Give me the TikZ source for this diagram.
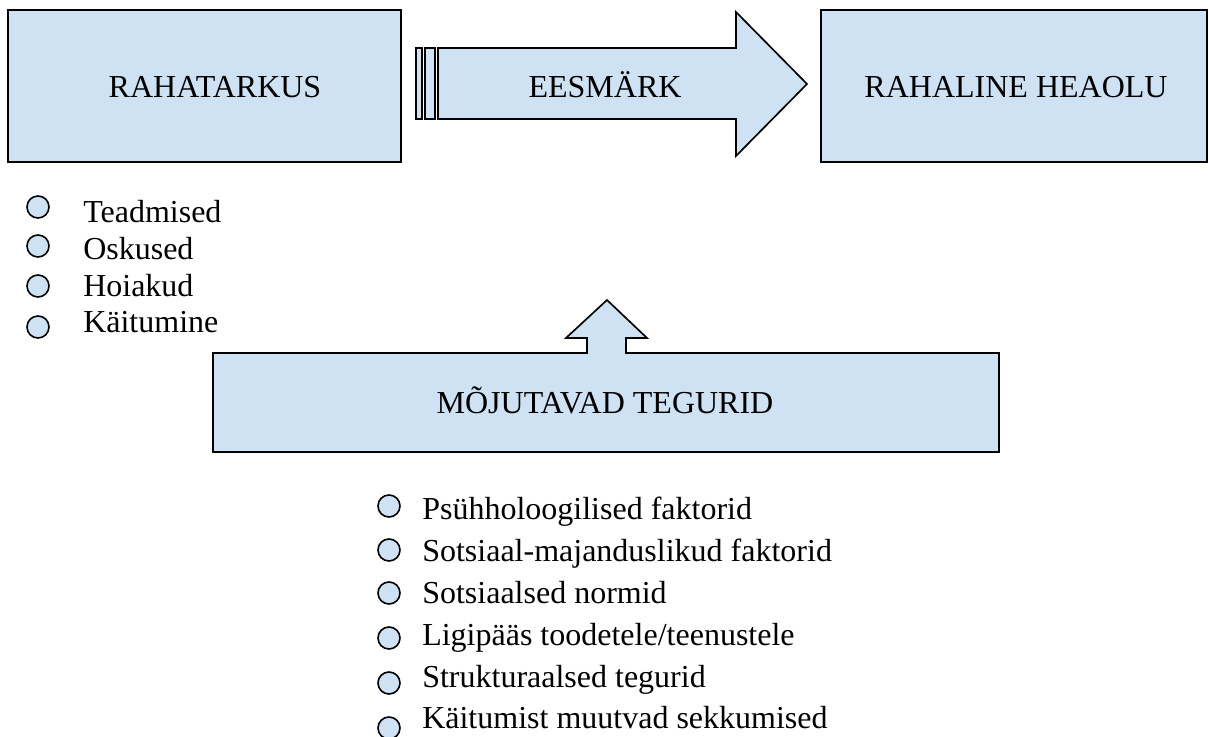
\documentclass[tikz,border=0pt]{standalone}
\usepackage{fontspec}
\setmainfont{Liberation Serif}
\definecolor{boxfill}{RGB}{207,226,243}
\begin{document}
\begin{tikzpicture}[x=0.75pt,y=-0.75pt,
  shapeline/.style={draw=black,fill=boxfill,line width=1.25pt,line join=miter},
  lbl/.style={inner sep=0pt,anchor=base,font=\fontsize{24}{28}\selectfont},
  item/.style={inner sep=0pt,anchor=base west,font=\fontsize{24}{28}\selectfont},
  bul/.style={draw=black,fill=boxfill,line width=1.2pt,circle,inner sep=0pt,minimum size=16.5pt}]
\useasboundingbox (0,0) rectangle (1209,737);
% top boxes
\draw[shapeline] (8,10) rectangle (401,162);
\draw[shapeline] (821,10) rectangle (1207,162);
% striped arrow
\draw[shapeline] (416,48) rectangle (422,119);
\draw[shapeline] (425,48) rectangle (435,119);
\draw[shapeline] (438,48) -- (736,48) -- (736,12) -- (807,84) -- (736,156) -- (736,119) -- (438,119) -- cycle;
\node[lbl] (rt) at (215,98) {RAHATARKUS};
\node[lbl] (ee) at (605,98) {EESMÄRK};
\node[lbl] (rh) at (1016,98) {RAHALINE HEAOLU};
% bottom box with up arrow
\draw[shapeline] (213,353) -- (587,353) -- (587,338) -- (566,338) -- (607,300) -- (647,338) -- (626,338) -- (626,353) -- (999,353) -- (999,452) -- (213,452) -- cycle;
\node[lbl] (mt) at (605,413) {MÕJUTAVAD TEGURID};
% left list
\node[bul] (l1) at (38,207) {};
\node[bul] (l2) at (38,246) {};
\node[bul] (l3) at (38,286) {};
\node[bul] (l4) at (38,327) {};
\node[item] (t1) at (83,223) {Teadmised};
\node[item] (t2) at (83,260) {Oskused};
\node[item] (t3) at (83,297) {Hoiakud};
\node[item] (t4) at (83,333) {Käitumine};
% bottom list
\node[bul] (m1) at (389,506) {};
\node[bul] (m2) at (389,550) {};
\node[bul] (m3) at (389,593) {};
\node[bul] (m4) at (389,638) {};
\node[bul] (m5) at (389,683) {};
\node[bul] (m6) at (389,728) {};
\node[item] (s1) at (422,519) {Psühholoogilised faktorid};
\node[item] (s2) at (422,561) {Sotsiaal-majanduslikud faktorid};
\node[item] (s3) at (422,603) {Sotsiaalsed normid};
\node[item] (s4) at (422,645) {Ligipääs toodetele/teenustele};
\node[item] (s5) at (422,687) {Strukturaalsed tegurid};
\node[item] (s6) at (422,728) {Käitumist muutvad sekkumised};
\end{tikzpicture}
\end{document}
